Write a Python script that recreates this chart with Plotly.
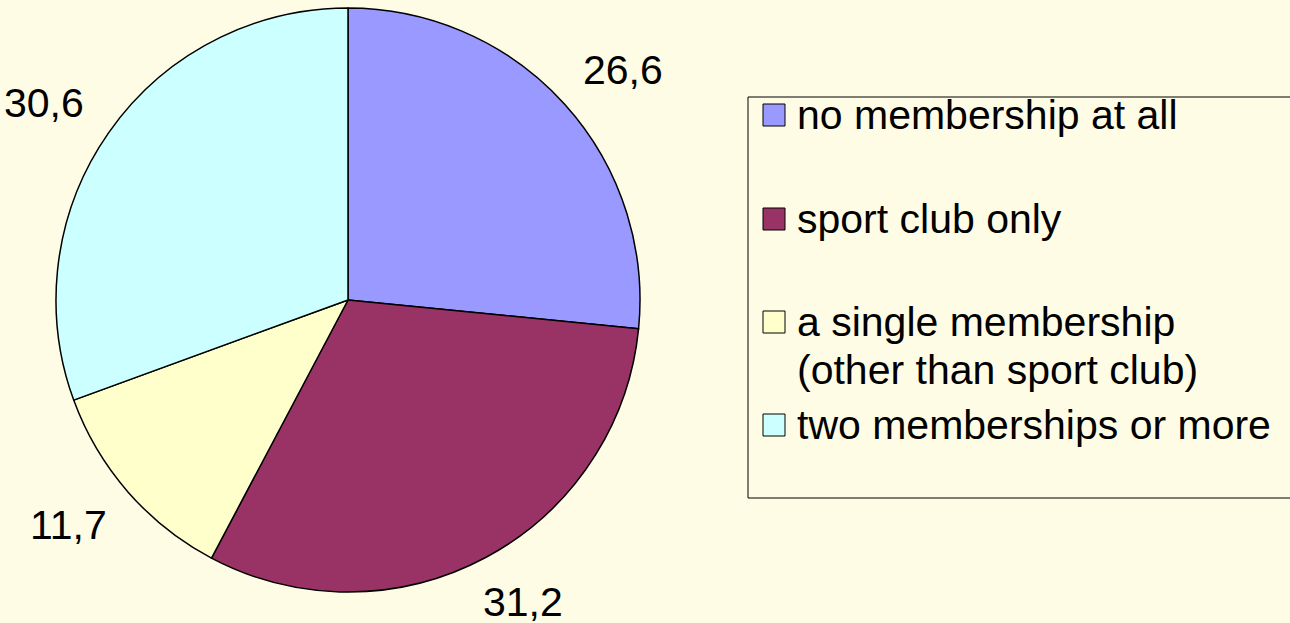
import math
import plotly.graph_objects as go

# ---- data ----
categories = [
    "no membership at all",
    "sport club only",
    "a single membership<br>(other than sport club)",
    "two memberships or more",
]
values = [26.6, 31.2, 11.7, 30.6]
colors = ["#9999FF", "#993366", "#FFFFCC", "#CCFFFF"]

# ---- layout constants ----
W, H = 1290, 623
BG = "#FFFCE6"
FONT = "Liberation Sans, Arial, sans-serif"
FS = 41
CX, CY, R = 348, 300, 292  # pie centre / radius in px

def px_x(x):
    return x / W

def px_y(y):
    return 1 - y / H

fig = go.Figure(
    go.Pie(
        labels=[c.replace("<br>", " ") for c in categories],
        values=values,
        sort=False,
        direction="clockwise",
        rotation=0,
        marker=dict(colors=colors, line=dict(color="black", width=1.5)),
        textinfo="none",
        domain=dict(x=[px_x(CX - R), px_x(CX + R)], y=[px_y(CY + R), px_y(CY - R)]),
        showlegend=False,
        hoverinfo="label+value",
    )
)

# ---- data labels outside the slices (Excel style), placed from slice mid-angles ----
annotations = []
total = sum(values)
cum = 0.0
gap = 36
lab_w, lab_h = 86, 30
for v in values:
    mid = (cum + v / 2) / total * 2 * math.pi
    cum += v
    s, c = math.sin(mid), math.cos(mid)
    x = CX + (R + gap) * s + lab_w / 2 * s
    y = CY - (R + gap) * c - lab_h / 2 * c
    annotations.append(dict(
        xref="paper", yref="paper", x=px_x(x), y=px_y(y),
        xanchor="center", yanchor="middle", showarrow=False,
        text=f"{v:.1f}".replace(".", ","),
        font=dict(family=FONT, size=FS, color="black")))

# ---- manual legend (Excel style) ----
shapes = [
    dict(type="rect", xref="paper", yref="paper",
         x0=px_x(748), x1=px_x(1320), y0=px_y(498), y1=px_y(97),
         line=dict(color="black", width=1), fillcolor=BG, layer="below"),
]
item_y = [115, 219, 322, 425]
line_gap = 48
for cat, col, yc in zip(categories, colors, item_y):
    shapes.append(dict(type="rect", xref="paper", yref="paper",
                       x0=px_x(763), x1=px_x(785), y0=px_y(yc + 11), y1=px_y(yc - 11),
                       line=dict(color="black", width=1), fillcolor=col))
    for i, line in enumerate(cat.split("<br>")):
        annotations.append(dict(
            xref="paper", yref="paper", x=px_x(795), y=px_y(yc + i * line_gap),
            xanchor="left", yanchor="middle", showarrow=False, text=line,
            font=dict(family=FONT, size=FS, color="black")))

fig.update_layout(
    width=W, height=H,
    margin=dict(l=0, r=0, t=0, b=0),
    paper_bgcolor=BG, plot_bgcolor=BG,
    shapes=shapes,
    annotations=annotations,
)

fig.write_html(
    "out.html",
    config={"displayModeBar": False},
    post_script="document.body.style.margin='0';document.body.style.overflow='hidden';",
)
